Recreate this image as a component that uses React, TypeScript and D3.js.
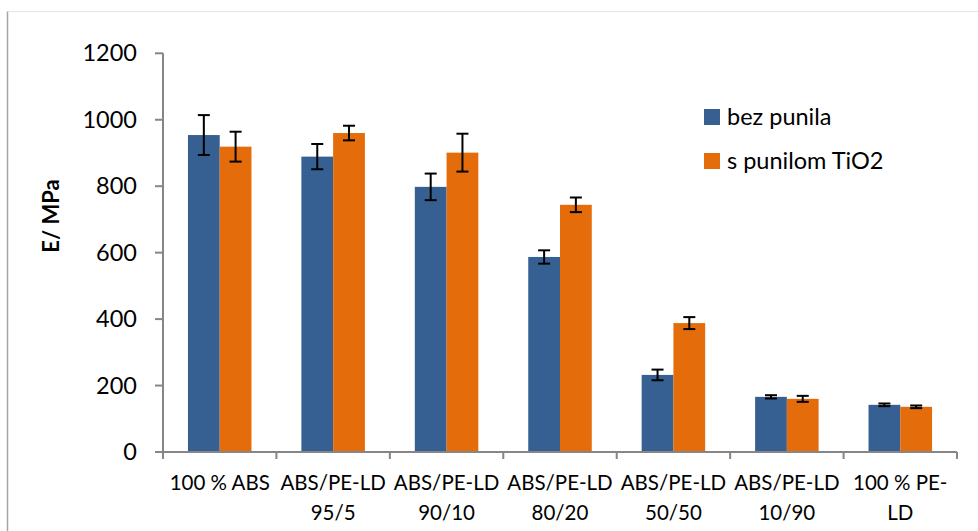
import React from "react";
import * as d3 from "d3";

const categories: string[][] = [
  ["100 % ABS"],
  ["ABS/PE-LD", "95/5"],
  ["ABS/PE-LD", "90/10"],
  ["ABS/PE-LD", "80/20"],
  ["ABS/PE-LD", "50/50"],
  ["ABS/PE-LD", "10/90"],
  ["100 % PE-", "LD"],
];
const seriesNames = ["bez punila", "s punilom TiO2"];
const bezValues = [954, 889, 798, 587, 232, 166, 142];
const bezErrors = [60, 38, 40, 20, 16, 5, 4];
const tioValues = [919, 960, 901, 744, 388, 160, 136];
const tioErrors = [45, 22, 57, 22, 18, 9, 4];
const yTicks = [0, 200, 400, 600, 800, 1000, 1200];
const colors = ["#376092", "#E46C0A"];

const W = 978;
const H = 531;
const FONT = "Lato, 'Open Sans', sans-serif";

export default function App() {
  const x0 = 163, x1 = 957, yBottom = 452, yTop = 53.3;
  const x = d3
    .scaleBand<number>()
    .domain(d3.range(categories.length))
    .range([x0, x1])
    .paddingInner(0.44)
    .paddingOuter(0.22);
  const xs = d3.scaleBand<number>().domain([0, 1]).range([0, x.bandwidth()]);
  const y = d3.scaleLinear().domain([0, 1200]).range([yBottom, yTop]);
  const series = [
    { values: bezValues, errors: bezErrors },
    { values: tioValues, errors: tioErrors },
  ];
  const step = (x1 - x0) / categories.length;
  const axisColor = "#868686";

  return (
    <svg width={W} height={H} style={{ position: "absolute", left: 0, top: 0, background: "#fff" }}>
      <rect x={0} y={0} width={W} height={H} fill="#fff" />
      <line x1={7.5} y1={11.5} x2={W} y2={11.5} stroke="#e6e6e6" strokeWidth={1} />
      <line x1={7.5} y1={11.5} x2={7.5} y2={H} stroke="#a6a6a6" strokeWidth={1.5} />

      {series.map((s, si) =>
        s.values.map((v, i) => (
          <rect
            key={`b${si}-${i}`}
            x={(x(i) as number) + (xs(si) as number)}
            y={y(v)}
            width={xs.bandwidth()}
            height={yBottom - y(v)}
            fill={colors[si]}
          />
        ))
      )}

      {series.map((s, si) =>
        s.values.map((v, i) => {
          const cx = (x(i) as number) + (xs(si) as number) + xs.bandwidth() / 2;
          const e = s.errors[i];
          return (
            <g key={`e${si}-${i}`} stroke="#000" strokeWidth={2}>
              <line x1={cx} x2={cx} y1={y(v + e)} y2={y(v - e)} />
              <line x1={cx - 6} x2={cx + 6} y1={y(v + e)} y2={y(v + e)} />
              <line x1={cx - 6} x2={cx + 6} y1={y(v - e)} y2={y(v - e)} />
            </g>
          );
        })
      )}

      <line x1={x0} x2={x0} y1={yTop} y2={yBottom} stroke={axisColor} strokeWidth={2} />
      {yTicks.map((t) => (
        <g key={`yt${t}`}>
          <line x1={x0 - 8} x2={x0} y1={y(t)} y2={y(t)} stroke={axisColor} strokeWidth={2} />
          <text
            x={137}
            y={y(t) + 2}
            textAnchor="end"
            dominantBaseline="middle"
            fontFamily={FONT}
            fontSize={23.5}
            fill="#000"
          >
            {t}
          </text>
        </g>
      ))}

      <line x1={x0} x2={x1} y1={yBottom} y2={yBottom} stroke={axisColor} strokeWidth={2} />
      {d3.range(categories.length + 1).map((i) => (
        <line
          key={`xt${i}`}
          x1={x0 + i * step}
          x2={x0 + i * step}
          y1={yBottom}
          y2={yBottom + 7}
          stroke={axisColor}
          strokeWidth={2}
        />
      ))}
      {categories.map((lines, i) => (
        <text
          key={`xl${i}`}
          textAnchor="middle"
          fontFamily={FONT}
          fontSize={20.5}
          fill="#000"
        >
          {lines.map((ln, li) => (
            <tspan key={li} x={(x(i) as number) + x.bandwidth() / 2} y={490 + li * 30}>
              {ln}
            </tspan>
          ))}
        </text>
      ))}

      <text
        transform={`translate(59,216) rotate(-90)`}
        textAnchor="middle"
        fontFamily={FONT}
        fontSize={22}
        fontWeight="bold"
        fill="#000"
      >
        E/ MPa
      </text>

      {seriesNames.map((n, i) => (
        <g key={`lg${i}`} transform={`translate(704,${109 + i * 44})`}>
          <rect x={0} y={0} width={16} height={16} fill={colors[i]} />
          <text x={23} y={16} fontFamily={FONT} fontSize={23.5} fill="#000">
            {n}
          </text>
        </g>
      ))}
    </svg>
  );
}
